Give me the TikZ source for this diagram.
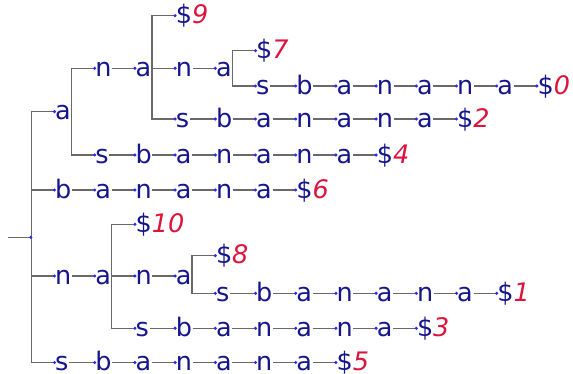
\documentclass[tikz,border=0pt]{standalone}
\usepackage{fontspec}
\setmainfont{DejaVu Sans}
\definecolor{txt}{RGB}{22,22,140}
\definecolor{num}{RGB}{220,20,60}
\definecolor{edgec}{RGB}{105,105,105}
\definecolor{dotc}{RGB}{40,40,255}
\newcommand\lf[1]{\$\textcolor{num}{\itshape #1}}
% #1 prefix, #2 parent, #3 depth of first node, #4 y, #5 list of labels
\newcommand\chain[5]{%
  \foreach \c [count=\i, evaluate=\i as \j using int(\i-1)] in {#5} {
    \node[ch] (#1\i) at ({54.5+40.2*(#3+\i-2)},#4) {\c};
    \ifnum\i=1
      \draw[con] (#2.east) |- (#1\i.west);
    \else
      \draw[con] (#1\j.east) -- (#1\i.west);
    \fi
    \fill[dotc] (#1\i.west) circle (1.7pt);
  }%
}
\begin{document}
\begin{tikzpicture}[x=1pt,y=-1pt,
  ch/.style={anchor=west,inner xsep=0.5pt,inner ysep=0pt,text height=16.6pt,text depth=0pt,
    text=txt,font=\fontsize{25.5}{30}\selectfont},
  con/.style={draw=edgec,line width=1.4pt},
]
\useasboundingbox (0,0) rectangle (573,374);
\coordinate (in) at (8,237.3);
\node[inner sep=0pt,minimum size=0pt] (R) at (31,237.3) {};
\draw[con] (in) -- (R.west);
% depth 1
\chain{a}{R}{1}{111.7}{a}
\chain{b}{R}{1}{190}{b,a,n,a,n,a,\lf{6}}
\chain{n}{R}{1}{276}{n,a}
\chain{s}{R}{1}{362.5}{s,b,a,n,a,n,a,\lf{5}}
% under a
\chain{an}{a1}{2}{68.3}{n,a}
\chain{as}{a1}{2}{155}{s,b,a,n,a,n,a,\lf{4}}
% under ana
\chain{anaD}{an2}{4}{15.7}{\lf{9}}
\chain{anan}{an2}{4}{68.3}{n,a}
\chain{anas}{an2}{4}{119}{s,b,a,n,a,n,a,\lf{2}}
% under anana
\chain{ananD}{anan2}{6}{50.7}{\lf{7}}
\chain{ananas}{anan2}{6}{86}{s,b,a,n,a,n,a,\lf{0}}
% under na
\chain{naD}{n2}{3}{224.3}{\lf{10}}
\chain{nan}{n2}{3}{276}{n,a}
\chain{nas}{n2}{3}{328.3}{s,b,a,n,a,n,a,\lf{3}}
% under nana
\chain{nanD}{nan2}{5}{255.7}{\lf{8}}
\chain{nanas}{nan2}{5}{293.3}{s,b,a,n,a,n,a,\lf{1}}
\fill[dotc] (R.west) circle (1.7pt);
\end{tikzpicture}
\end{document}
